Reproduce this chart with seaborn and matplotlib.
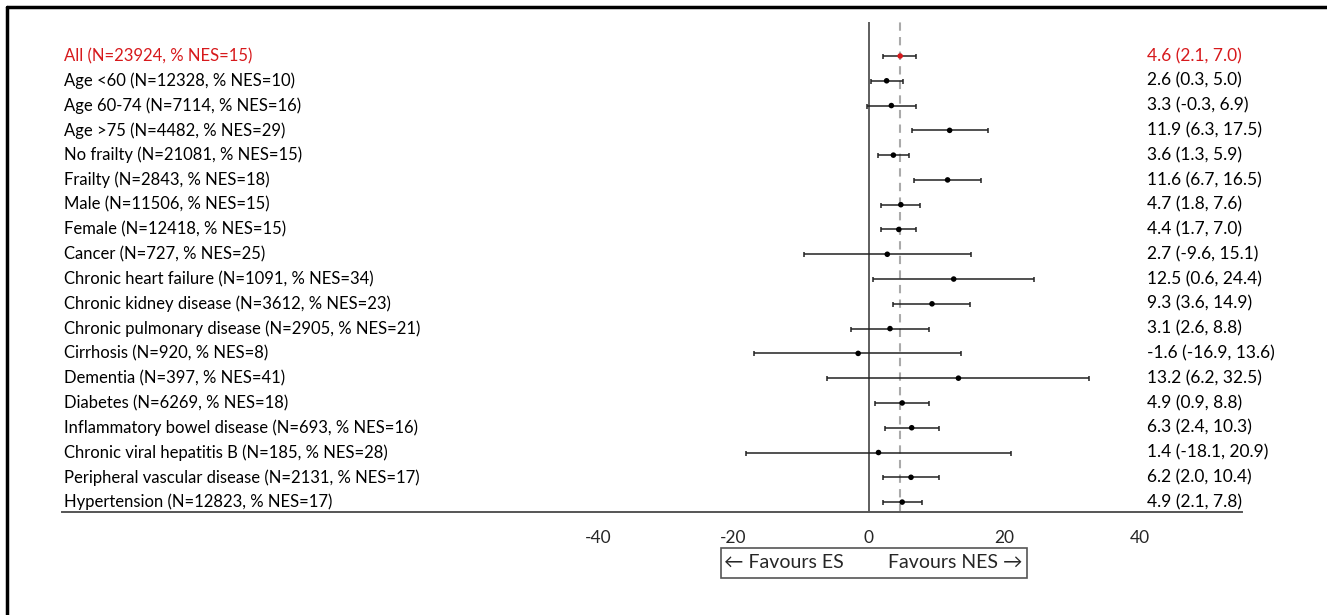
import matplotlib
matplotlib.use("Agg")
import matplotlib.pyplot as plt
from matplotlib.lines import Line2D
from matplotlib.patches import Rectangle
import seaborn as sns
import pandas as pd

# Sous-groupes et estimations (différence NES - ES)
labels = [
    "All (N=23924, % NES=15)",
    "Age <60 (N=12328, % NES=10)",
    "Age 60-74 (N=7114, % NES=16)",
    "Age >75 (N=4482, % NES=29)",
    "No frailty (N=21081, % NES=15)",
    "Frailty (N=2843, % NES=18)",
    "Male (N=11506, % NES=15)",
    "Female (N=12418, % NES=15)",
    "Cancer (N=727, % NES=25)",
    "Chronic heart failure (N=1091, % NES=34)",
    "Chronic kidney disease (N=3612, % NES=23)",
    "Chronic pulmonary disease (N=2905, % NES=21)",
    "Cirrhosis (N=920, % NES=8)",
    "Dementia (N=397, % NES=41)",
    "Diabetes (N=6269, % NES=18)",
    "Inflammatory bowel disease (N=693, % NES=16)",
    "Chronic viral hepatitis B (N=185, % NES=28)",
    "Peripheral vascular disease (N=2131, % NES=17)",
    "Hypertension (N=12823, % NES=17)",
]
estimate = [4.6, 2.6, 3.3, 11.9, 3.6, 11.6, 4.7, 4.4, 2.7, 12.5, 9.3, 3.1,
            -1.6, 13.2, 4.9, 6.3, 1.4, 6.2, 4.9]
# bornes telles que tracées dans la figure
lower = [2.1, 0.3, -0.3, 6.3, 1.3, 6.7, 1.8, 1.7, -9.6, 0.6, 3.6, -2.6,
         -16.9, -6.2, 0.9, 2.4, -18.1, 2.0, 2.1]
upper = [7.0, 5.0, 6.9, 17.5, 5.9, 16.5, 7.6, 7.0, 15.1, 24.4, 14.9, 8.8,
         13.6, 32.5, 8.8, 10.3, 20.9, 10.4, 7.8]
# texte affiché à droite (tel quel)
ci_text = [
    "4.6 (2.1, 7.0)", "2.6 (0.3, 5.0)", "3.3 (-0.3, 6.9)", "11.9 (6.3, 17.5)",
    "3.6 (1.3, 5.9)", "11.6 (6.7, 16.5)", "4.7 (1.8, 7.6)", "4.4 (1.7, 7.0)",
    "2.7 (-9.6, 15.1)", "12.5 (0.6, 24.4)", "9.3 (3.6, 14.9)", "3.1 (2.6, 8.8)",
    "-1.6 (-16.9, 13.6)", "13.2 (6.2, 32.5)", "4.9 (0.9, 8.8)", "6.3 (2.4, 10.3)",
    "1.4 (-18.1, 20.9)", "6.2 (2.0, 10.4)", "4.9 (2.1, 7.8)",
]
overall = 4.6
xticks = [-40, -20, 0, 20, 40]

df = pd.DataFrame({"label": labels, "est": estimate, "lo": lower, "hi": upper})
df["row"] = range(len(df))
df["group"] = ["all"] + ["sub"] * (len(df) - 1)

sns.set_style("white")
plt.rcParams["font.family"] = ["Lato", "DejaVu Sans"]

W, H = 1327, 615
fig = plt.figure(figsize=(W / 100, H / 100), dpi=100)
ax = fig.add_axes([62 / W, 1 - 512 / H, (1242 - 62) / W, (512 - 22) / H])

red = "#d7191c"
ax.errorbar(df["est"], df["row"], xerr=[df["est"] - df["lo"], df["hi"] - df["est"]],
            fmt="none", ecolor="#222222", elinewidth=1.1, capsize=1.8, capthick=1.1, zorder=2)
sns.scatterplot(data=df, x="est", y="row", hue="group", palette={"all": red, "sub": "black"},
                s=16, edgecolor="none", legend=False, ax=ax, zorder=3)

ax.axvline(0, color="#333333", lw=1.1, zorder=1)
ax.axvline(overall, color="#aaaaaa", lw=1.5, ls=(0, (4, 3)), zorder=1)

ax.set_xlim(-119.1, 55.05)
ax.set_ylim(18.40, -1.372)
ax.set_xticks(xticks)
ax.set_xticklabels([str(t) for t in xticks], fontsize=12.5)
ax.tick_params(axis="x", length=0, pad=13)
ax.set_yticks([])
ax.set_xlabel("")
ax.set_ylabel("")
for s in ["top", "left", "right"]:
    ax.spines[s].set_visible(False)
ax.spines["bottom"].set_color("#555555")
ax.spines["bottom"].set_linewidth(1.4)

for i, (lab, txt) in enumerate(zip(labels, ci_text)):
    c = red if i == 0 else "black"
    ax.text(0.002, i, lab, transform=ax.get_yaxis_transform(), ha="left", va="center",
            fontsize=12, color=c)
    ax.text(0.9195, i, txt, transform=ax.get_yaxis_transform(), ha="left", va="center",
            fontsize=12.5, color=c)

# encadré "Favours"
fig.add_artist(Rectangle((721 / W, 1 - 578 / H), (1027 - 721) / W, 30 / H,
                         transform=fig.transFigure, fill=False, ec="#555555", lw=1.2))
fig.text(724 / W, 1 - 563 / H, "\u2190 Favours ES", ha="left", va="center", fontsize=14)
fig.text(1022 / W, 1 - 563 / H, "Favours NES \u2192", ha="right", va="center", fontsize=14)

# cadre de l'image
fig.add_artist(Line2D([7 / W, 7 / W], [0, 1 - 7 / H], transform=fig.transFigure, color="black", lw=2.5))
fig.add_artist(Line2D([7 / W, 1], [1 - 7 / H, 1 - 7 / H], transform=fig.transFigure, color="black", lw=2.5))

fig.savefig("out.png", dpi=100)
